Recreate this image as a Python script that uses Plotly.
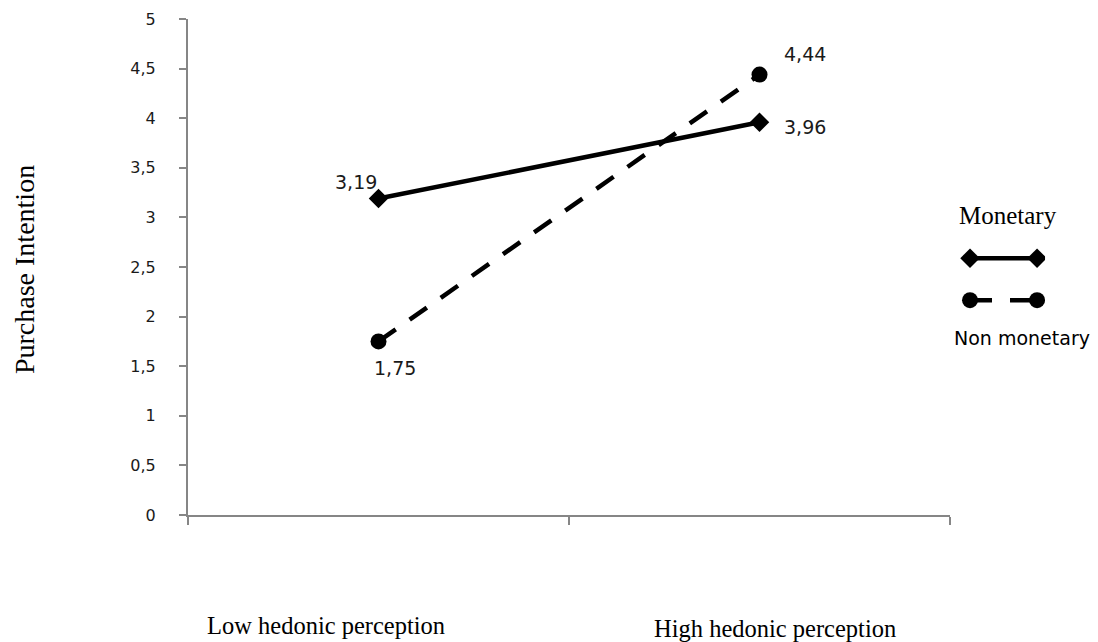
import plotly.graph_objects as go

categories = ["Low hedonic perception", "High hedonic perception"]
cat_pos = [0.5, 1.5]
monetary = [3.19, 3.96]
non_monetary = [1.75, 4.44]
series_names = ["Monetary", "Non monetary"]
y_ticks = [0, 0.5, 1, 1.5, 2, 2.5, 3, 3.5, 4, 4.5, 5]


def fmt(v):
    s = ("%g" % v)
    return s.replace(".", ",")


SERIF = "Liberation Serif, Times New Roman, serif"
SANS = "DejaVu Sans, Verdana, sans-serif"
DASH = "21px,17px"

fig = go.Figure()

fig.add_trace(go.Scatter(
    x=cat_pos, y=monetary, mode="lines+markers", name=series_names[0],
    line=dict(color="black", width=4.5),
    marker=dict(symbol="diamond", size=15, color="black"),
    showlegend=False, xaxis="x", yaxis="y"))

fig.add_trace(go.Scatter(
    x=cat_pos, y=non_monetary, mode="lines+markers", name=series_names[1],
    line=dict(color="black", width=4.5, dash=DASH),
    marker=dict(symbol="circle", size=16, color="black"),
    showlegend=False, xaxis="x", yaxis="y"))

# legend samples on an overlay axis
fig.add_trace(go.Scatter(
    x=[0, 1], y=[1, 1], mode="lines+markers",
    line=dict(color="black", width=4.5),
    marker=dict(symbol="diamond", size=15, color="black"),
    showlegend=False, hoverinfo="skip", xaxis="x2", yaxis="y2"))
fig.add_trace(go.Scatter(
    x=[0, 1], y=[0, 0], mode="lines+markers",
    line=dict(color="black", width=4.5, dash="22px,18px"),
    marker=dict(symbol="circle", size=16, color="black"),
    showlegend=False, hoverinfo="skip", xaxis="x2", yaxis="y2"))

annotations = []
# data labels
shifts_m = [(-23, 17), (45, -5)]
shifts_n = [(16, -27), (45, 21)]
for xv, yv, (dx, dy) in zip(cat_pos, monetary, shifts_m):
    annotations.append(dict(x=xv, y=yv, xref="x", yref="y", text=fmt(yv),
                            showarrow=False, xshift=dx, yshift=dy,
                            xanchor="center", yanchor="middle",
                            font=dict(family=SANS, size=19, color="#1a1a1a")))
for xv, yv, (dx, dy) in zip(cat_pos, non_monetary, shifts_n):
    annotations.append(dict(x=xv, y=yv, xref="x", yref="y", text=fmt(yv),
                            showarrow=False, xshift=dx, yshift=dy,
                            xanchor="center", yanchor="middle",
                            font=dict(family=SANS, size=19, color="#1a1a1a")))

# category labels
for txt, px, py in zip(categories, [0.1503, 0.6394], [-0.2218, -0.228]):
    annotations.append(dict(x=px, y=py, xref="paper", yref="paper", text=txt,
                            showarrow=False, xanchor="center", yanchor="middle",
                            font=dict(family=SERIF, size=24.5, color="black")))

# y title
annotations.append(dict(x=-0.1775, y=0.494, xref="paper", yref="paper",
                        text="Purchase Intention", textangle=-90, showarrow=False,
                        xanchor="center", yanchor="middle", borderpad=0,
                        font=dict(family=SERIF, size=28, color="black")))

# legend text
annotations.append(dict(x=0.8932, y=0.6048, xref="paper", yref="paper",
                        text=series_names[0], showarrow=False,
                        xanchor="center", yanchor="middle",
                        font=dict(family=SERIF, size=25, color="black")))
annotations.append(dict(x=0.9085, y=0.3569, xref="paper", yref="paper",
                        text=series_names[1], showarrow=False,
                        xanchor="center", yanchor="middle",
                        font=dict(family=SANS, size=19, color="black")))

fig.update_layout(
    width=1098, height=642,
    margin=dict(l=180, r=0, t=11, b=135),
    paper_bgcolor="white", plot_bgcolor="white",
    xaxis=dict(domain=[0, 0.8301], range=[0, 2], tickvals=[0, 1, 2],
               ticktext=["", "", ""], ticks="outside", ticklen=8,
               tickcolor="#868686", tickwidth=2,
               showline=True, linecolor="#868686", linewidth=2,
               showgrid=False, zeroline=False, fixedrange=True),
    yaxis=dict(range=[0, 5], tickvals=y_ticks, ticktext=[fmt(v) for v in y_ticks],
               ticks="outside", ticklen=7, tickcolor="#868686", tickwidth=2,
               showline=True, linecolor="#868686", linewidth=2,
               showgrid=False, zeroline=False, ticklabelstandoff=20,
               tickfont=dict(family=SANS, size=16, color="#1a1a1a")),
    xaxis2=dict(domain=[0.841, 0.9336], range=[-0.149, 1.119], visible=False,
                anchor="y2"),
    yaxis2=dict(domain=[0.403, 0.548], range=[-0.357, 1.357], visible=False,
                anchor="x2"),
    annotations=annotations,
)

fig.write_html("out.html")
